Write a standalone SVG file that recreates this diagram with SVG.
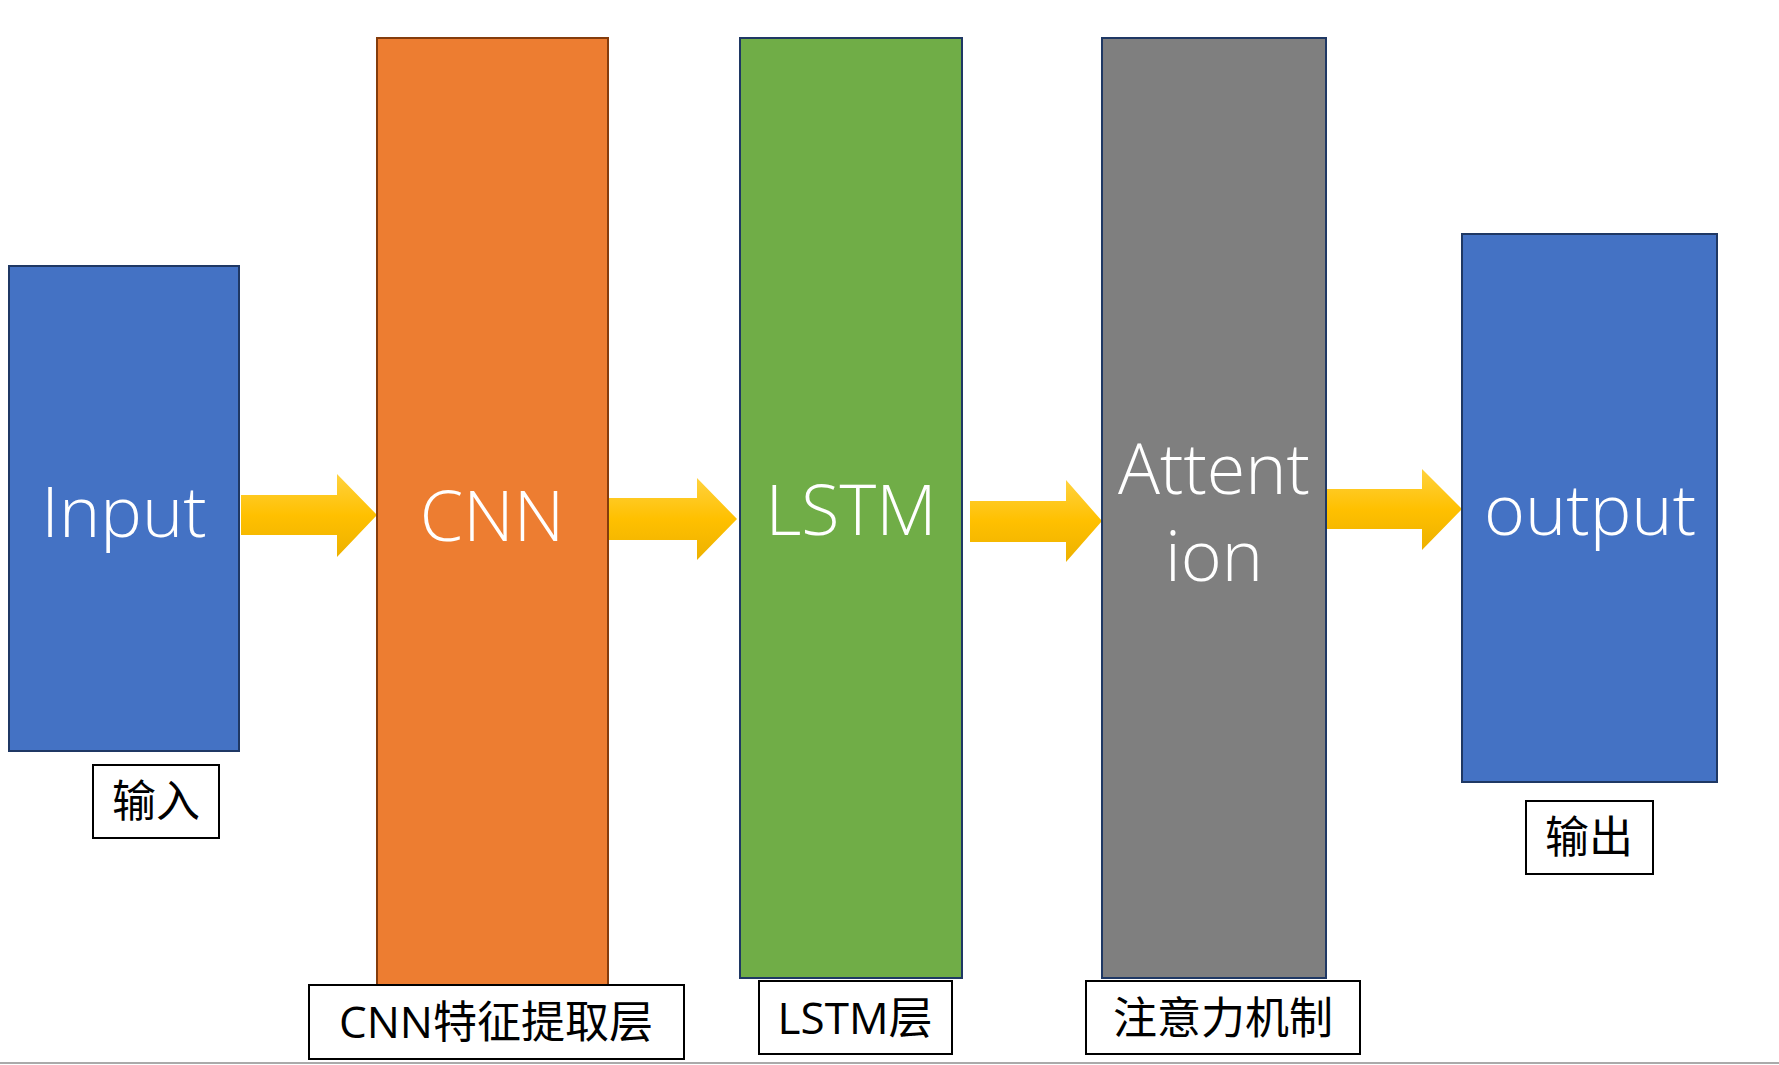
<svg xmlns="http://www.w3.org/2000/svg" width="1779" height="1065" viewBox="0 0 1779 1065">
<style>
.big{font-family:"Open Sans","Noto Sans",sans-serif;font-size:70px;fill:#fff;text-anchor:middle;font-weight:300}
.lbl{font-family:"Open Sans","Noto Sans CJK SC",sans-serif;font-size:44px;fill:#000;text-anchor:middle}
.lb{fill:#fff;stroke:#000;stroke-width:2}
.bx{stroke:#1f3864;stroke-width:2}
.ar{fill:url(#g)}
</style>
<defs><linearGradient id="g" x1="0" y1="0" x2="0" y2="1"><stop offset="0" stop-color="#FFD23F"/><stop offset="0.5" stop-color="#FFC000"/><stop offset="1" stop-color="#EDB100"/></linearGradient></defs>
<rect width="1779" height="1065" fill="#fff"/>
<line x1="0" y1="1063" x2="1779" y2="1063" stroke="#aaa" stroke-width="2"/>
<g id="connectors">
<polygon class="ar" points="241,495 337,495 337,474 377,515 337,557 337,535 241,535"/>
<polygon class="ar" points="602,498 697,498 697,478 737,519 697,560 697,540 602,540"/>
<polygon class="ar" points="970,501 1066,501 1066,480 1102,521 1066,562 1066,542 970,542"/>
<polygon class="ar" points="1326,489 1422,489 1422,469 1462,509 1422,550 1422,529 1326,529"/>
</g>
<g id="input"><rect class="bx" x="9" y="266" width="230" height="485" fill="#4472C4"/><text class="big" x="124" y="537">Input</text></g>
<g id="cnn"><rect x="377" y="38" width="231" height="953" fill="#ED7D31" stroke="#843c0c" stroke-width="2"/><text class="big" x="492" y="541">CNN</text></g>
<g id="lstm"><rect class="bx" x="740" y="38" width="222" height="940" fill="#70AD47"/><text class="big" x="851" y="535">LSTM</text></g>
<g id="attention"><rect class="bx" x="1102" y="38" width="224" height="940" fill="#7F7F7F"/><text class="big" x="1214" y="494">Attent</text><text class="big" x="1214" y="581">ion</text></g>
<g id="output"><rect class="bx" x="1462" y="234" width="255" height="548" fill="#4472C4"/><text class="big" x="1590" y="535">output</text></g>
<g id="l1"><rect class="lb" x="93" y="765" width="126" height="73"/><text class="lbl" x="156" y="817">输入</text></g>
<g id="l2"><rect class="lb" x="309" y="985" width="375" height="74"/><text class="lbl" x="496" y="1038">CNN特征提取层</text></g>
<g id="l3"><rect class="lb" x="759" y="981" width="193" height="73"/><text class="lbl" x="855" y="1034">LSTM层</text></g>
<g id="l4"><rect class="lb" x="1086" y="981" width="274" height="73"/><text class="lbl" x="1223" y="1034">注意力机制</text></g>
<g id="l5"><rect class="lb" x="1526" y="801" width="127" height="73"/><text class="lbl" x="1589" y="853">输出</text></g>
</svg>
